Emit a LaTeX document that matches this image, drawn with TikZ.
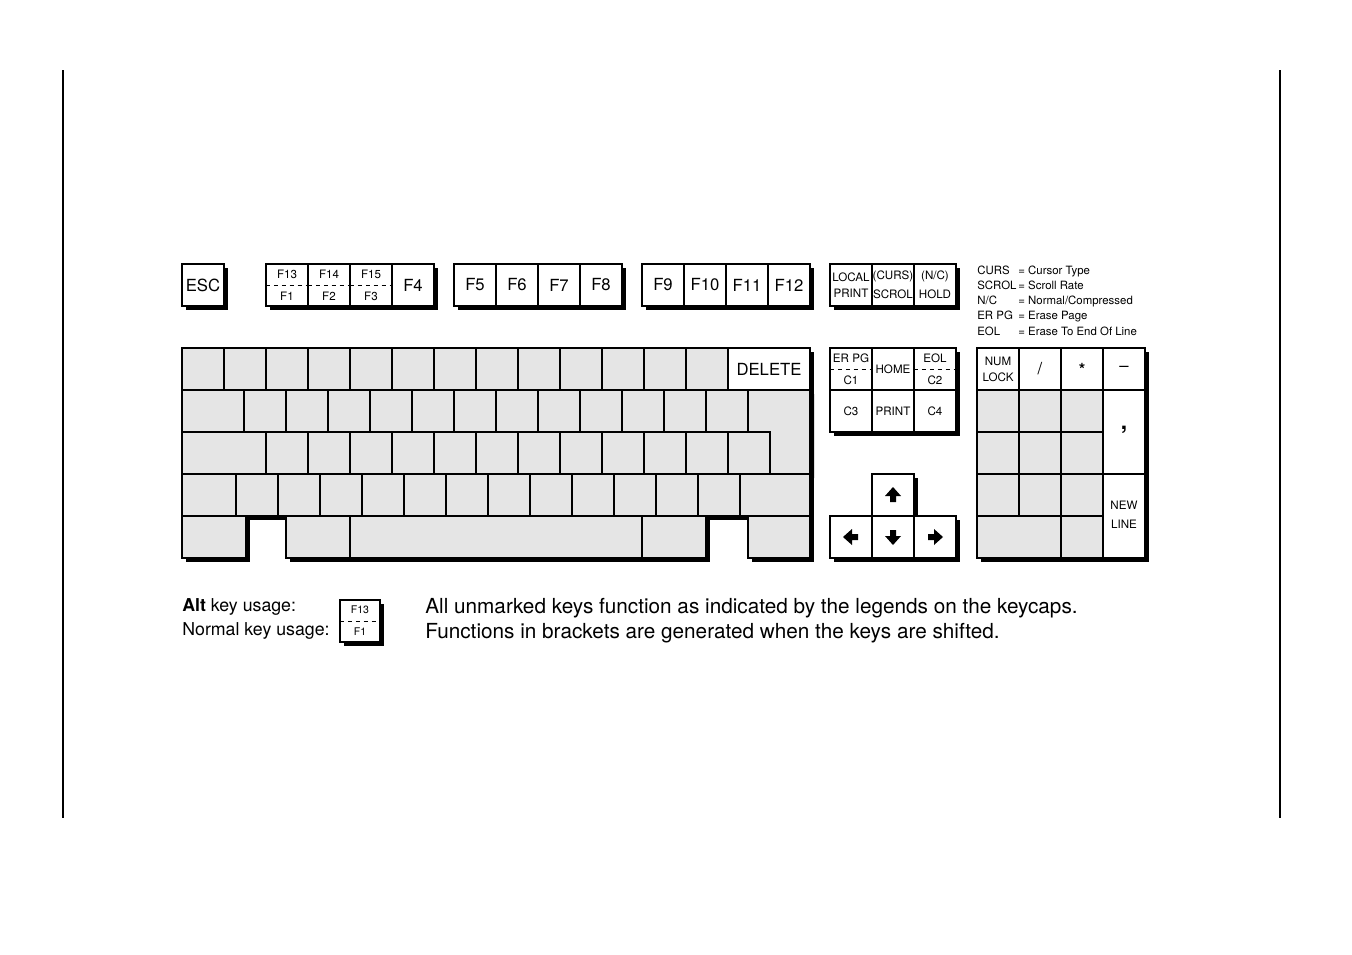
\documentclass[tikz,border=0pt]{standalone}
\usepackage{fontspec}
\setmainfont{TeX Gyre Heros}

\tikzset{
  keyw/.style={draw, line width=0.6pt, fill=white},
  keyg/.style={draw, line width=0.6pt, fill=gray!20},
  shad/.style={fill=black},
  split/.style={dash pattern=on 2.5pt off 2pt, line width=0.5pt},
  big/.style={font=\fontsize{9.5}{10}\selectfont},
  small/.style={font=\fontsize{6.6}{8}\selectfont, align=center, inner sep=0pt},
  abbr/.style={font=\fontsize{6.5}{8}\selectfont, anchor=base west, inner sep=0pt},
  note/.style={font=\fontsize{11.8}{14}\selectfont, anchor=west, inner sep=0pt},
  arw/.pic={\fill (-3,7)--(-3,1)--(-8,1)--(0,-8)--(8,1)--(3,1)--(3,7)--cycle;}
}
% key: x, y, width, height, style, label
\newcommand{\kkshadow}[6]{\fill[shad] (#1+4,#2+4) rectangle ++(#3,#4);}
\newcommand{\kkdraw}[6]{%
  \draw[#5] (#1,#2) rectangle ++(#3,#4);
  \node[big] at (#1+#3/2,#2+#4/2) {#6};}
% enter key outline
\newcommand{\enter}[1]{%
  \path[#1] (748,390) -- (810,390) -- (810,474) -- (770,474) -- (770,432) -- (748,432) -- cycle;}
\newcommand{\allkeys}{%
  % function row
  \kk{182}{264}{42}{42}{keyw}{ESC}
  \foreach \i in {0,...,3} {\kk{266+42*\i}{264}{42}{42}{keyw}{}}
  \foreach \n [count=\i from 0] in {F5,F6,F7,F8}
    {\kk{454+42*\i}{264}{42}{42}{keyw}{\n}}
  \foreach \n [count=\i from 0] in {F9,F10,F11,F12}
    {\kk{642+42*\i}{264}{42}{42}{keyw}{\n}}
  \foreach \i in {0,1,2} {\kk{830+42*\i}{264}{42}{42}{keyw}{}}
  % main block
  \foreach \i in {0,...,12} {\kk{182+42*\i}{348}{42}{42}{keyg}{}}
  \kk{728}{348}{82}{42}{keyw}{DELETE}
  \kk{182}{390}{62}{42}{keyg}{}
  \foreach \i in {0,...,11} {\kk{244+42*\i}{390}{42}{42}{keyg}{}}
  \kk{182}{432}{84}{42}{keyg}{}
  \foreach \i in {0,...,11} {\kk{266+42*\i}{432}{42}{42}{keyg}{}}
  \kk{182}{474}{54}{42}{keyg}{}
  \foreach \i in {0,...,11} {\kk{236+42*\i}{474}{42}{42}{keyg}{}}
  \kk{740}{474}{70}{42}{keyg}{}
  \kk{182}{516}{64}{42}{keyg}{}
  \kk{286}{516}{64}{42}{keyg}{}
  \kk{350}{516}{292}{42}{keyg}{}
  \kk{642}{516}{64}{42}{keyg}{}
  \kk{748}{516}{62}{42}{keyg}{}
  % edit block
  \foreach \r in {0,1} {\foreach \c in {0,1,2} {\kk{830+42*\c}{348+42*\r}{42}{42}{keyw}{}}}
  % cursor keys
  \kk{872}{474}{42}{42}{keyw}{}
  \foreach \i in {0,1,2} {\kk{830+42*\i}{516}{42}{42}{keyw}{}}
  % numeric pad
  \kk{977}{348}{42}{42}{keyw}{}
  \kk{1019}{348}{42}{42}{keyw}{/}
  \kk{1061}{348}{42}{42}{keyw}{\bfseries *}
  \kk{1103}{348}{42}{42}{keyw}{--}
  \foreach \r in {0,1,2} {\foreach \c in {0,1,2}
    {\kk{977+42*\c}{390+42*\r}{42}{42}{keyg}{}}}
  \kk{977}{516}{84}{42}{keyg}{}
  \kk{1061}{516}{42}{42}{keyg}{}
  \kk{1103}{390}{42}{84}{keyw}{}
  \kk{1103}{474}{42}{84}{keyw}{}
  % legend key
  \kk{340}{600}{40}{42}{keyw}{}
}

\begin{document}
\begin{tikzpicture}[x=0.02cm, y=-0.02cm]
  \useasboundingbox (0,0) rectangle (1352,954);
  \draw[line width=0.6pt] (63,70) -- (63,818) (1280,70) -- (1280,818);

  % shadows first, then the keys
  \let\kk\kkshadow \allkeys
  \enter{shad, xshift=0.08cm, yshift=-0.08cm}
  \let\kk\kkdraw \allkeys
  \enter{keyg}

  % split legends
  \foreach \x/\u/\l [count=\i] in {266/F13/F1, 308/F14/F2, 350/F15/F3,
      830/ER PG/C1, 914/EOL/C2} {
    \pgfmathsetmacro{\yy}{\i>3 ? 348 : 264}
    \draw[split] (\x,\yy+21) -- ++(42,0);
    \node[small] (u\i) at (\x+21,\yy+10) {\u};
    \node[small] (l\i) at (\x+21,\yy+32) {\l};
  }
  \node[big] (ffour) at (413,285) {F4};
  \node[small] (lp) at (851,285) {LOCAL\\[1pt]PRINT};
  \node[small] (cs) at (893,285) {(CURS)\\[3pt]SCROL};
  \node[small] (nh) at (935,285) {(N/C)\\[3pt]HOLD};
  \node[small] (home) at (893,369) {HOME};
  \foreach \n [count=\i from 0] in {C3,PRINT,C4}
    {\node[small] (ec\i) at (851+42*\i,411) {\n};}

  % abbreviations
  \foreach \a/\b [count=\i from 0] in {CURS/Cursor Type, SCROL/Scroll Rate,
      {N/C}/Normal\slash Compressed, ER PG/Erase Page, EOL/Erase To End Of Line} {
    \node[abbr] (ab\i) at (977,274+15.3*\i) {\a};
    \node[abbr] (ad\i) at (1018,274+15.3*\i) {= \b};
  }

  % cursor arrows
  \pic at (893,495) {arw};
  \pic[rotate=180] at (893,537) {arw};
  \pic[rotate=90] at (851,537) {arw};
  \pic[rotate=-90] at (935,537) {arw};

  % numeric pad legends
  \node[small] (nl) at (998,369) {NUM\\[1pt]LOCK};
  \node[font=\fontsize{13}{13}\selectfont\bfseries] (comma) at (1124,430) {,};
  \node[small] (nw) at (1124,515) {NEW\\[3pt]LINE};

  % legend
  \node[note, font=\fontsize{10.1}{11}\selectfont] (alt) at (182,607) {\textbf{Alt} key usage:};
  \node[note, font=\fontsize{10.1}{11}\selectfont] (norm) at (182,631) {Normal key usage:};
  \draw[split] (340,621) -- (380,621);
  \node[small, font=\fontsize{6}{7}\selectfont] (ex1) at (360,610) {F13};
  \node[small, font=\fontsize{6}{7}\selectfont] (ex2) at (360,632) {F1};
  \node[note] (t1) at (425,608) {All unmarked keys function as indicated by the legends on the keycaps.};
  \node[note] (t2) at (425,633) {Functions in brackets are generated when the keys are shifted.};
\end{tikzpicture}
\end{document}
